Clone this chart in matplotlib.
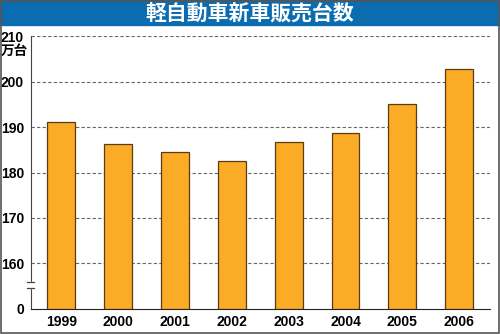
import matplotlib.pyplot as plt
from matplotlib.patches import Rectangle
from matplotlib.lines import Line2D

plt.rcParams['font.family'] = ['Liberation Sans', 'Noto Sans CJK JP', 'DejaVu Sans']

years = ['1999', '2000', '2001', '2002', '2003', '2004', '2005', '2006']
sales = [191.2, 186.3, 184.6, 182.6, 186.6, 188.6, 195.1, 202.8]  # 万台
yticks = [160, 170, 180, 190, 200, 210]
title = '軽自動車新車販売台数'

# the axis is broken: everything below 160 is squeezed into one step, 0 sits at 150
BASE = 150

fig = plt.figure(figsize=(5, 3.34), dpi=100)
ax = fig.add_axes([0.062, 0.075, 0.918, 0.817])

x = list(range(len(years)))
ax.bar(x, [v - BASE for v in sales], bottom=BASE, width=0.49,
       color='#fbab26', edgecolor='#5b3b12', linewidth=0.9, zorder=3)

ax.set_ylim(BASE, 210)
ax.set_xlim(-0.53, 7.54)
ax.set_yticks([BASE] + yticks)
ax.set_yticklabels(['0'] + [str(t) for t in yticks], fontsize=10, fontweight='bold')
ax.set_xticks(x)
ax.set_xticklabels(years, fontsize=10, fontweight='bold')
ax.tick_params(length=0, pad=4)
ax.tick_params(axis='y', pad=5)

for t in yticks:
    ax.axhline(t, color='#666666', linestyle=(0, (3, 2)), linewidth=0.8, zorder=1)

for side in ('top', 'right'):
    ax.spines[side].set_visible(False)
ax.spines['left'].set_color('#444444')
ax.spines['bottom'].set_color('#222222')

# break marks on the y axis
tr = ax.get_yaxis_transform()
ax.add_patch(Rectangle((-0.01, 154.6), 0.02, 1.3, transform=tr, color='white',
                       clip_on=False, zorder=5))
for yb in (154.6, 155.9):
    ax.add_line(Line2D([-0.008, 0.006], [yb, yb], transform=tr, color='#444444',
                       linewidth=0.9, clip_on=False, zorder=6))

fig.text(0.057, 0.847, '万台', ha='right', va='center', fontsize=9.8, fontweight='bold',
         family=['Noto Sans CJK JP'])

# title banner
fig.patches.append(Rectangle((0, 0.925), 1, 0.075, transform=fig.transFigure,
                             color='#0b6db0', zorder=0))
fig.text(0.5, 0.962, title, ha='center', va='center', color='white', fontsize=15,
         fontweight='bold', family=['Noto Sans CJK JP'])

# frame around the whole graphic
fig.patches.append(Rectangle((0.001, 0.003), 0.996, 0.995, transform=fig.transFigure,
                             fill=False, edgecolor='#555555', linewidth=1.2, zorder=10))

fig.savefig('out.png', dpi=100)
